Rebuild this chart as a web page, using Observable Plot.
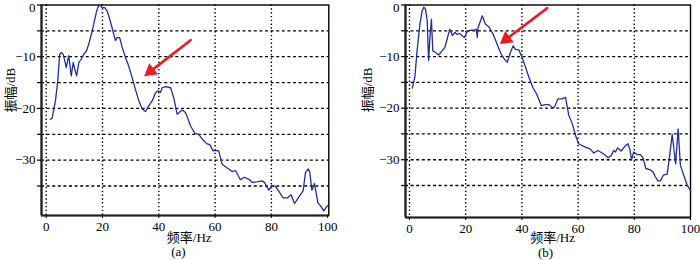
<!DOCTYPE html>
<html><head><meta charset="utf-8">
<script src="https://cdn.jsdelivr.net/npm/d3@7"></script>
<script src="https://cdn.jsdelivr.net/npm/@observablehq/plot@0.6"></script>
<style>
body{margin:0;background:#fff}
#wrap{position:relative;width:700px;height:260px;overflow:hidden}
.p{position:absolute;top:0}
</style>
</head><body>
<div id="wrap"><div class="p" id="pa" style="left:0"></div><div class="p" id="pb" style="left:350px"></div></div>
<script>
// ---- data ----
const freqA = [1.5,2.1,3.3,4.1,4.8,5.4,6.0,6.6,7.1,8.0,8.9,9.6,10.0,10.8,11.6,12.4,13.4,14.3,15.1,16.0,16.9,17.9,18.7,19.3,19.9,20.8,21.7,22.6,23.4,24.6,25.2,26.1,27.0,28.2,29.3,30.5,31.7,32.9,34.1,35.3,36.4,37.7,38.8,39.6,40.6,41.2,42.4,44.2,45.3,46.5,48.3,49.5,51.3,52.8,54.2,55.4,57.0,58.1,59.3,60.1,61.3,62.5,64.3,66.1,67.2,69.0,70.4,72.0,73.2,74.9,76.7,77.5,79.1,80.3,81.5,82.6,84.2,85.6,87.0,88.2,89.7,91.3,92.1,93.1,93.6,94.4,95.3,96.5,97.4,98.6,99.6,100];
const ampA = [-22.1,-21.9,-18.5,-14.7,-9.5,-9.2,-9.5,-10.8,-12.1,-9.8,-13.7,-11.1,-12.1,-13.7,-11.1,-10.5,-9.5,-8.9,-7.6,-5.7,-3.7,-1.2,0,-0.2,-0.5,-0.5,-1.2,-2.8,-4.4,-6.9,-6.3,-6.3,-8.2,-10.2,-11.8,-14.0,-16.3,-18.5,-20.1,-20.6,-19.5,-18.5,-17.0,-16.6,-16.9,-16.0,-15.8,-16.0,-17.9,-21.1,-20.3,-20.8,-23.4,-24.8,-25.0,-25.9,-26.8,-27.0,-28.2,-28.1,-28.2,-30.8,-31.5,-32.2,-32.0,-33.8,-33.3,-33.7,-34.3,-34.2,-34.0,-34.3,-35.8,-34.9,-35.1,-36.0,-37.3,-37.3,-36.7,-38.4,-37.2,-35.9,-32.4,-31.7,-32.2,-35.8,-34.5,-38.2,-38.8,-39.8,-39.0,-38.8];
const freqB = [1.0,1.9,2.7,3.7,4.5,5.1,5.7,6.3,6.8,7.2,7.8,8.3,9.3,10.4,11.6,12.6,13.4,14.3,15.3,16.1,17.0,17.9,18.8,19.6,20.5,21.7,22.9,23.8,24.1,24.4,25.9,27.0,28.2,29.8,31.2,32.6,33.8,34.8,35.9,36.9,37.7,38.9,40.1,41.3,42.5,43.9,45.2,46.9,48.4,49.6,50.8,51.6,52.8,54.3,55.5,56.7,57.9,59.1,60.2,62.0,64.2,65.6,67.0,68.9,70.7,71.8,72.7,73.3,74.1,75.3,76.5,77.7,78.4,79.0,79.8,81.0,82.2,83.2,84.1,85.5,86.7,87.5,88.4,89.3,90.3,91.7,92.5,93.5,94.7,95.6,96.4,97.6,98.8,100];
const ampB = [-16.1,-14.0,-8.9,-3.7,-1.2,-0.4,-0.8,-3.1,-10.8,-6.9,-2.8,-8.9,-9.2,-9.7,-8.9,-8.2,-6.6,-4.7,-5.9,-5.3,-5.7,-5.5,-6.0,-6.3,-5.2,-4.9,-4.9,-4.7,-6.3,-4.4,-2.1,-3.7,-4.2,-5.7,-7.6,-9.5,-10.5,-11.1,-9.2,-7.9,-8.6,-8.7,-10.2,-12.1,-14.0,-16.0,-17.2,-19.5,-19.3,-19.3,-19.9,-19.8,-18.2,-18.2,-17.9,-21.4,-23.0,-25.3,-26.9,-27.4,-27.9,-28.7,-28.2,-28.8,-29.6,-29.2,-28.2,-28.5,-27.7,-28.3,-27.5,-26.9,-27.9,-30.0,-28.5,-29.0,-29.0,-29.8,-31.7,-31.9,-32.4,-33.3,-34.1,-34.1,-33.0,-32.8,-29.5,-25.1,-30.8,-24.0,-31.1,-33.0,-34.9,-36.0];
const xTicks = [0,20,40,60,80,100];
const xGrid = [0,20,40,60,80];
const yTicks = [0,-5,-10,-15,-20,-25,-30,-35];
const yLabelTicks = [-10,-20,-30];
const yTopTick = [0];
const yGrid = [-5,-10,-15,-20,-25,-30,-35];
const xLabel = "频率/Hz";
const yLabel = "振幅/dB";
const panelTags = ["(a)","(b)"];
const arrowA = [{x1:51.3, y1:-6.8, x2:35.9, y2:-13.3}];
const arrowB = [{x1:49.0, y1:-0.6, x2:33.3, y2:-7.1}];

// ---- drawing ----
const FONT = "'Liberation Serif','Times New Roman','Noto Sans CJK SC',serif";
const RED = "#ea1b24";
const fmtY = d => d < 0 ? "\u2212" + (-d) : String(d);

function panel(freq, amp, arrow, tag, cfg) {
  const [x0] = cfg.xDomain, [y0] = cfg.yDomain;
  return Plot.plot({
    width: 350, height: 260,
    marginLeft: cfg.ml, marginRight: cfg.mr, marginTop: 4.5, marginBottom: cfg.mb,
    style: {fontSize: "13px", fontFamily: FONT, color: "#000", background: "#fff"},
    x: {domain: cfg.xDomain},
    y: {domain: cfg.yDomain},
    marks: [
      Plot.gridY(yGrid, {stroke: "#000", strokeOpacity: 1, strokeWidth: 1.3, strokeDasharray: "3,2.6"}),
      Plot.gridX(xGrid, {stroke: "#000", strokeOpacity: 1, strokeWidth: 1.4, strokeDasharray: "1.4,2.4"}),
      Plot.frame({stroke: "#000", strokeWidth: 1.4}),
      Plot.ruleX([x0], {stroke: "#222", strokeWidth: 2.2}),
      Plot.ruleY([y0], {stroke: "#222", strokeWidth: 2.2}),
      Plot.axisY({ticks: yTicks, tickSize: 4, tickFormat: null, label: null, stroke: "#000", strokeWidth: 1.2, text: null}),
      Plot.axisY({ticks: yLabelTicks, tickSize: 0, tickPadding: 6, tickFormat: fmtY, label: null}),
      Plot.axisY({ticks: yTopTick, tickSize: 0, tickPadding: 6, tickFormat: fmtY, label: null, dy: 3}),
      Plot.axisX({ticks: xTicks, tickSize: 3, tickPadding: 3, tickFormat: d => String(d), label: null, stroke: "#000"}),
      Plot.lineY(amp, {x: freq, stroke: "#1f2f9e", strokeWidth: 1.3}),
      Plot.arrow(arrow, {x1: "x1", y1: "y1", x2: "x2", y2: "y2", stroke: RED, strokeWidth: 2.6, headLength: 0, insetEnd: 6}),
      Plot.dot(arrow, {x: "x2", y: "y2", symbol: "triangle", r: 5.2, fill: RED, stroke: "none", rotate: 232, dx: 3.2, dy: -2.5}),
      Plot.text([xLabel], {x: cfg.xLabX, frameAnchor: "bottom", dy: cfg.labDy, fill: "#000", fontSize: 13, fontFamily: FONT}),
      Plot.text([tag], {x: cfg.tagX, frameAnchor: "bottom", dy: cfg.labDy + 14.5, fill: "#000", fontSize: 13, fontFamily: FONT}),
      Plot.text([yLabel], {y: -20.8, frameAnchor: "left", dx: cfg.yLabDx, rotate: -90, fill: "#000", fontSize: 13, fontFamily: FONT})
    ]
  });
}

document.getElementById("pa").append(panel(freqA, ampA, arrowA, panelTags[0], {
  xDomain: [-1.67, 100.4], yDomain: [-40.7, 0], ml: 41, mr: 21.7, mb: 45,
  xLabX: 50.8, tagX: 47, yLabDx: -31, labDy: 26
}));
document.getElementById("pb").append(panel(freqB, ampB, arrowB, panelTags[1], {
  xDomain: [-1.42, 100], yDomain: [-41.2, 0], ml: 55, mr: 10, mb: 43,
  xLabX: 50.9, tagX: 48.4, yLabDx: -38, labDy: 24.5
}));
</script>
</body></html>
